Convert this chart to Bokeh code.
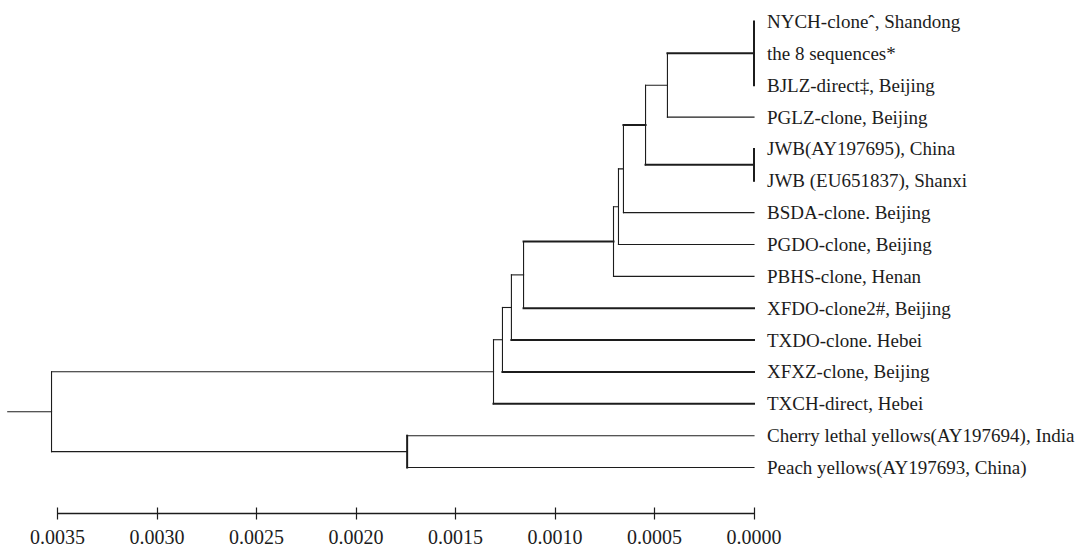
from bokeh.plotting import figure
from bokeh.models import Range1d, LinearAxis, FixedTicker, NumeralTickFormatter, ColumnDataSource
from bokeh.core.properties import value
from bokeh.embed import file_html
from bokeh.resources import INLINE

# ---------------- data ----------------
leaf_labels = [
    "NYCH-clone\u02c6, Shandong",
    "the 8 sequences*",
    "BJLZ-direct\u2021, Beijing",
    "PGLZ-clone, Beijing",
    "JWB(AY197695), China",
    "JWB (EU651837), Shanxi",
    "BSDA-clone. Beijing",
    "PGDO-clone, Beijing",
    "PBHS-clone, Henan",
    "XFDO-clone2#, Beijing",
    "TXDO-clone. Hebei",
    "XFXZ-clone, Beijing",
    "TXCH-direct, Hebei",
    "Cherry lethal yellows(AY197694), India",
    "Peach yellows(AY197693, China)",
]
# internal nodes: name -> (children, height)
node_names = ["A", "B", "C", "D", "E", "F", "G", "H", "I", "J", "K", "L", "R"]
node_children = [
    [0, 1, 2], ["A", 3], [4, 5], ["B", "C"], ["D", 6], ["E", 7], ["F", 8],
    ["G", 9], ["H", 10], ["I", 11], ["J", 12], [13, 14], ["K", "L"],
]
node_heights = [0.0, 0.000435, 0.0, 0.000545, 0.000656, 0.000681, 0.000706,
                0.001158, 0.001219, 0.001264, 0.001309, 0.001743, 0.00353]
root_stub = 0.00375
tick_values = [0.0, 0.0005, 0.0010, 0.0015, 0.0020, 0.0025, 0.0030, 0.0035]

# ---------------- styles ----------------
thick_edges = {"A", "C", "D", "G", 9, 10, 11, 12}
thick_verticals = {"A", "C", "L"}
INK = "#1c1c1c"

# ---------------- build tree geometry ----------------
pos = {}
for i in range(len(leaf_labels)):
    pos[i] = (0.0, float(i))
for name, kids, h in zip(node_names, node_children, node_heights):
    ys = [pos[k][1] for k in kids]
    pos[name] = (h, (ys[0] + ys[-1]) / 2.0)

segs = {"x0": [], "y0": [], "x1": [], "y1": [], "w": []}
def add(x0, y0, x1, y1, w):
    segs["x0"].append(x0); segs["y0"].append(y0)
    segs["x1"].append(x1); segs["y1"].append(y1); segs["w"].append(w)

for name, kids, h in zip(node_names, node_children, node_heights):
    ys = [pos[k][1] for k in kids]
    add(h, ys[0], h, ys[-1], 2.0 if name in thick_verticals else 1.1)
    for k in kids:
        kx, ky = pos[k]
        add(h, ky, kx, ky, 2.0 if k in thick_edges else 1.1)
rx, ry = pos["R"]
add(root_stub, ry, rx, ry, 1.1)

# ---------------- figure ----------------
W = 1075
FRAME_H = 513
px_per_unit = 199000.0
left_val = 753.5 / px_per_unit
right_val = left_val - W / px_per_unit
row_px = 31.86
top_val = -21.0 / row_px
bottom_val = top_val + FRAME_H / row_px

p = figure(frame_width=W, frame_height=FRAME_H,
           output_backend="svg", toolbar_location=None,
           x_range=Range1d(left_val, right_val),
           y_range=Range1d(bottom_val, top_val),
           x_axis_location=None, y_axis_location=None,
           min_border=0)
p.outline_line_color = None
p.xgrid.visible = False
p.ygrid.visible = False
p.background_fill_color = "white"
p.border_fill_color = "white"

p.segment("x0", "y0", "x1", "y1", source=ColumnDataSource(segs),
          line_color=INK, line_width="w", line_cap="square")

lsrc = ColumnDataSource(dict(x=[0.0] * len(leaf_labels),
                             y=list(range(len(leaf_labels))),
                             t=leaf_labels))
p.text("x", "y", text="t", source=lsrc, x_offset=13,
       text_font=value("Liberation Serif"), text_font_size="19px",
       text_baseline="middle", text_align="left", text_color=INK)

ax = LinearAxis(ticker=FixedTicker(ticks=tick_values),
                formatter=NumeralTickFormatter(format="0.0000"),
                bounds=(0.0, 0.0035))
ax.axis_line_color = INK
ax.axis_line_width = 1.5
ax.major_tick_line_color = INK
ax.major_tick_line_width = 1.2
ax.major_tick_in = 6
ax.major_tick_out = 6
ax.minor_tick_line_color = None
ax.major_label_text_font = "Liberation Serif"
ax.major_label_text_font_size = "20px"
ax.major_label_text_color = INK
ax.major_label_standoff = 10
p.add_layout(ax, "below")

open("out.html", "w").write(file_html(p, INLINE))
